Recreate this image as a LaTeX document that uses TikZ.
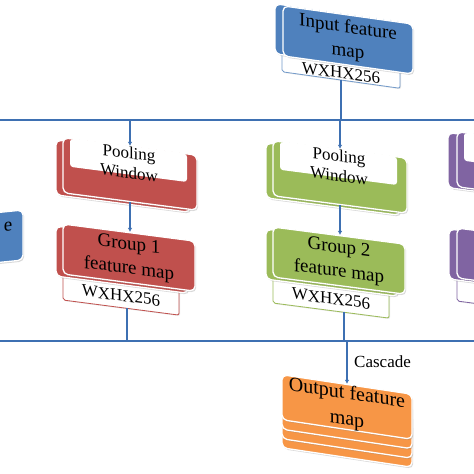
\documentclass[tikz,border=0pt]{standalone}
\usepackage{fontspec}
\setmainfont{Liberation Serif}
\usetikzlibrary{shadows,arrows.meta}
\definecolor{linecol}{RGB}{62,112,178}
\definecolor{cblue}{RGB}{79,129,189}
\definecolor{cred}{RGB}{192,80,77}
\definecolor{cgreen}{RGB}{155,187,89}
\definecolor{cpurple}{RGB}{128,100,162}
\definecolor{corange}{RGB}{247,150,70}
\tikzset{
  card/.style={rounded corners=5pt, draw=white, line width=1.3pt, inner sep=0pt,
    drop shadow={shadow xshift=1.2pt, shadow yshift=-1.5pt, opacity=0.3}},
  lblbox/.style={rounded corners=2pt, fill=white, line width=0.8pt, inner sep=0pt,
    drop shadow={shadow xshift=1pt, shadow yshift=-1pt, opacity=0.2}},
  innerwin/.style={fill=white, rounded corners=3pt, inner sep=0pt, minimum width=117pt, minimum height=28pt},
  bigtxt/.style={font=\fontsize{19}{24}\selectfont, align=center},
  midtxt/.style={font=\fontsize{17}{20}\selectfont, align=center, inner sep=0pt},
  bar/.style={draw=linecol, line width=2.2pt},
  conn/.style={draw=linecol, line width=1.6pt},
  arr/.style={conn, -{Latex[length=4pt,width=4.5pt]}},
  slantA/.style={yslant=-0.13, transform shape},
  poolcard/.style={card, minimum width=134pt, minimum height=55pt},
  groupcard/.style={card, minimum width=132pt, minimum height=50pt},
}
\begin{document}
\begin{tikzpicture}[x=1pt,y=-1pt]
\useasboundingbox (0,0) rectangle (474,474);
\clip (0,0) rectangle (474,474);
\fill[white] (0,0) rectangle (474,474);

% bars
\coordinate (tl) at (0,120); \coordinate (tr) at (474,120);
\coordinate (bl) at (0,341); \coordinate (br) at (474,341);
\draw[bar] (tl) -- (tr);
\draw[bar] (bl) -- (br);

% Input feature map
\begin{scope}[shift={(348,41)}, yslant=-0.14, transform shape]
  \node[lblbox, draw=cblue!80, minimum width=118pt, minimum height=40pt] (inl) at (-7,20) {};
  \node[midtxt] (inw) at (-7,33) {WXHX256};
  \node[card, fill=cblue, minimum width=130pt, minimum height=50pt] (inb) at (-8,-2) {};
  \node[card, fill=cblue, minimum width=130pt, minimum height=50pt, bigtxt] (in) at (0,-1) {Input feature\\map};
  \coordinate (ino) at (-7,40);
\end{scope}
\draw[conn] (ino) -- (ino |- tl);

% left partial blue card
\begin{scope}[shift={(-42,241.5)}, yslant=0.1, transform shape]
  \node[card, fill=cblue, minimum width=130pt, minimum height=50pt] (lb) at (0,0) {};
  \node[bigtxt, inner sep=0pt] (lbt) at (50,-9.5) {e};
\end{scope}

% Red pooling
\begin{scope}[shift={(130,174)}, slantA]
  \node[poolcard, fill=cred] (rpb) at (-7,3) {};
  \node[poolcard, fill=cred] (rp) at (0,0) {};
  \node[innerwin] (rpw) at (-1.5,-13.4) {};
  \node[midtxt] (rpt) at (-1,-11) {Pooling\\Window};
\end{scope}
% Red group
\begin{scope}[shift={(129,258.6)}, slantA]
  \node[lblbox, draw=cred, minimum width=116pt, minimum height=50pt] (rgl) at (-8,25) {};
  \node[midtxt] (rgw) at (-8,38) {WXHX256};
  \node[groupcard, fill=cred] (rgb) at (-7,2) {};
  \node[groupcard, fill=cred, bigtxt] (rg) at (0,-1) {Group 1\\feature map};
  \coordinate (rgo) at (-2,50);
\end{scope}

% Green pooling
\begin{scope}[shift={(340,177)}, slantA]
  \node[poolcard, fill=cgreen] (gpb) at (-7,3) {};
  \node[poolcard, fill=cgreen] (gp) at (0,0) {};
  \node[innerwin] (gpw) at (-1.5,-13.4) {};
  \node[midtxt] (gpt) at (-1,-11) {Pooling\\Window};
\end{scope}
% Green group
\begin{scope}[shift={(339,261.6)}, slantA]
  \node[lblbox, draw=cgreen, minimum width=116pt, minimum height=50pt] (ggl) at (-8,25) {};
  \node[midtxt] (ggw) at (-8,38) {WXHX256};
  \node[groupcard, fill=cgreen] (ggb) at (-7,2) {};
  \node[groupcard, fill=cgreen, bigtxt] (gg) at (0,-1) {Group 2\\feature map};
  \coordinate (ggo) at (5,50);
\end{scope}

% Purple pooling
\begin{scope}[shift={(524,168)}, slantA]
  \node[poolcard, fill=cpurple] (ppb) at (-9,2) {};
  \node[poolcard, fill=cpurple] (pp) at (0,0) {};
  \node[innerwin] (ppw) at (-1.5,-13.4) {};
\end{scope}
% Purple group
\begin{scope}[shift={(523,261.6)}, slantA]
  \node[lblbox, draw=cpurple, minimum width=116pt, minimum height=48pt] (pgl) at (-8,24) {};
  \node[groupcard, fill=cpurple] (pgb) at (-8,2) {};
  \node[groupcard, fill=cpurple] (pg) at (0,0) {};
\end{scope}

% connectors
\draw[arr] (rp.north |- tl) -- (rp.north);
\draw[arr] (gp.north |- tl) -- (gp.north);
\draw[arr] (rp.south) -- (rp.south |- rg.north);
\draw[arr] (gp.south) -- (gp.south |- gg.north);
\draw[conn] (rgo) -- (rgo |- bl);
\draw[conn] (ggo) -- (ggo |- bl);

% Output
\begin{scope}[shift={(347,407)}, yslant=-0.15, transform shape]
  \node[card, fill=corange, minimum width=130pt, minimum height=45pt] (o4) at (0,28) {};
  \node[card, fill=corange, minimum width=130pt, minimum height=45pt] (o3) at (0,19) {};
  \node[card, fill=corange, minimum width=130pt, minimum height=45pt] (o2) at (0,9.5) {};
  \node[card, fill=corange, minimum width=130pt, minimum height=45pt, font=\fontsize{20}{26}\selectfont, align=center] (op) at (0,0) {Output feature\\map};
\end{scope}
\draw[arr] (op.north |- bl) -- (op.north);
\node[midtxt, anchor=west] (casc) at (354,362) {Cascade};
\end{tikzpicture}
\end{document}
